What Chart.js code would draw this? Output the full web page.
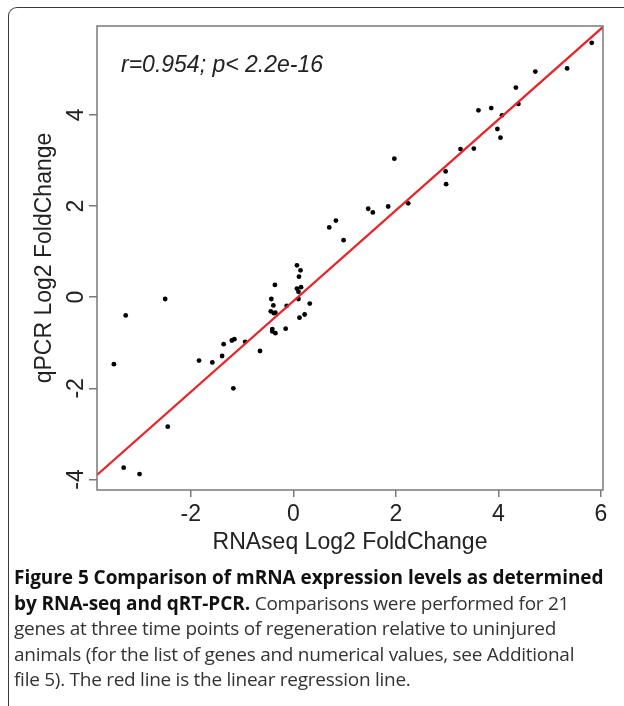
<!DOCTYPE html>
<html>
<head>
<meta charset="utf-8">
<script src="https://cdn.jsdelivr.net/npm/chart.js@4.4.1/dist/chart.umd.min.js"></script>
<style>
  html, body { margin: 0; padding: 0; background: #fff; }
  #wrap { position: relative; width: 624px; height: 706px; overflow: hidden; }
  #c { position: absolute; left: 0; top: 0; }
  #frame { position: absolute; left: 8px; top: 7px; width: 640px; height: 720px;
           border-top: 1.5px solid #3a3a3a; border-left: 1.5px solid #3a3a3a;
           border-top-left-radius: 9px; box-sizing: border-box; }
  #cap { position: absolute; left: 14px; top: 565px; width: 610px;
         font-family: "Open Sans", "Noto Sans", sans-serif; font-size: 19px;
         line-height: 25.6px; color: #333; letter-spacing: -0.27px; white-space: nowrap; }
  #cap b { color: #111; letter-spacing: -0.05px; }
</style>
</head>
<body>
<div id="wrap">
  <canvas id="c" width="624" height="706"></canvas>
  <div id="frame"></div>
  <div id="cap"><b>Figure 5 Comparison of mRNA expression levels as determined<br>by RNA-seq and qRT-PCR.</b> Comparisons were performed for 21<br>genes at three time points of regeneration relative to uninjured<br>animals (for the list of genes and numerical values, see Additional<br>file 5). The red line is the linear regression line.</div>
</div>
<script>
// RNAseq log2 fold change (x) and qPCR log2 fold change (y)
const rnaseqX = [5.82,5.34,4.72,4.34,4.39,3.61,3.86,4.07,3.98,4.04,
  3.26,3.52,2.97,2.98,1.97,2.24,1.85,1.46,1.55,0.70,
  0.83,0.98,0.07,0.14,0.11,-0.36,0.07,0.15,0.10,0.10,
  -0.43,-0.39,-0.13,0.32,-0.44,-0.38,-0.35,0.12,0.22,-0.41,
  -0.41,-0.35,-0.15,-0.94,-1.20,-1.15,-1.36,-1.39,-1.58,-1.84,
  -0.65,-1.17,-2.50,-3.27,-3.50,-2.45,-3.31,-3.00];
const qpcrY = [5.58,5.02,4.95,4.60,4.24,4.10,4.15,3.99,3.69,3.50,
  3.25,3.26,2.76,2.48,3.04,2.06,1.99,1.94,1.86,1.53,
  1.68,1.25,0.70,0.59,0.45,0.27,0.19,0.22,0.12,-0.04,
  -0.04,-0.18,-0.19,-0.14,-0.31,-0.35,-0.34,-0.45,-0.38,-0.70,
  -0.75,-0.79,-0.69,-0.98,-0.95,-0.92,-1.03,-1.29,-1.43,-1.39,
  -1.18,-2.00,-0.04,-0.40,-1.47,-2.84,-3.74,-3.88];
// regression line end points
const fitX = [-3.83, 6.04];
const fitY = [-3.90, 5.93];
// axes
const xRange = [-3.83, 6.04];
const yRange = [-4.23, 5.95];
const xTicks = [-2, 0, 2, 4, 6];
const yTicks = [-4, -2, 0, 2, 4];
const statText = "r=0.954; p< 2.2e-16";
const xTitle = "RNAseq Log2 FoldChange";
const yTitle = "qPCR Log2 FoldChange";

const FONT = "'Liberation Sans', Arial, sans-serif";
const AXIS_GRAY = '#7a7a7a';
const TEXT = '#222';

const points = rnaseqX.map((x, i) => ({ x: x, y: qpcrY[i] }));
const fitLine = fitX.map((x, i) => ({ x: x, y: fitY[i] }));

const boxPlugin = {
  id: 'box',
  afterDraw(chart) {
    const { ctx, chartArea: a, scales } = chart;
    ctx.save();
    ctx.strokeStyle = AXIS_GRAY;
    ctx.lineWidth = 1.5;
    ctx.strokeRect(a.left, a.top, a.right - a.left, a.bottom - a.top);
    // rotated y tick labels
    ctx.fillStyle = TEXT;
    ctx.font = "23px " + FONT;
    ctx.textAlign = 'center';
    ctx.textBaseline = 'middle';
    yTicks.forEach(v => {
      const py = scales.y.getPixelForValue(v);
      ctx.save();
      ctx.translate(77, py);
      ctx.rotate(-Math.PI / 2);
      ctx.fillText(String(v), 0, 0);
      ctx.restore();
    });
    // statistic annotation
    ctx.font = "italic 23px " + FONT;
    ctx.textAlign = 'left';
    ctx.textBaseline = 'alphabetic';
    ctx.fillText(statText, a.left + 24, a.top + 46);
    ctx.restore();
  }
};

new Chart(document.getElementById('c'), {
  type: 'scatter',
  data: {
    datasets: [
      { data: points, backgroundColor: '#000', borderColor: '#000',
        pointRadius: 2.4, pointHoverRadius: 2.4, borderWidth: 0, order: 2 },
      { type: 'line', data: fitLine, borderColor: '#e8262a', borderWidth: 2.2,
        pointRadius: 0, fill: false, order: 1 }
    ]
  },
  options: {
    responsive: false,
    animation: false,
    devicePixelRatio: 1,
    layout: { padding: { left: 10, top: 26, right: 21, bottom: 150 } },
    plugins: { legend: { display: false }, tooltip: { enabled: false } },
    scales: {
      x: {
        type: 'linear', min: xRange[0], max: xRange[1],
        afterBuildTicks: s => { s.ticks = xTicks.map(v => ({ value: v })); },
        afterFit: s => { s.height = 66; },
        grid: { display: true, drawOnChartArea: false, drawTicks: true, tickLength: 7, color: AXIS_GRAY, lineWidth: 1.5 },
        border: { display: false },
        ticks: { color: TEXT, font: { family: FONT, size: 23 }, padding: 4, maxRotation: 0 },
        title: { display: true, text: xTitle, color: TEXT, font: { family: FONT, size: 23 }, padding: { top: 0, bottom: 0 } }
      },
      y: {
        type: 'linear', min: yRange[0], max: yRange[1],
        afterBuildTicks: s => { s.ticks = yTicks.map(v => ({ value: v })); },
        afterFit: s => { s.width = 87; },
        grid: { display: true, drawOnChartArea: false, drawTicks: true, tickLength: 8, color: AXIS_GRAY, lineWidth: 1.5 },
        border: { display: false },
        ticks: { display: false },
        title: { display: true, text: yTitle, color: TEXT, font: { family: FONT, size: 23 }, padding: { top: 21, bottom: 0 } }
      }
    }
  },
  plugins: [boxPlugin]
});
</script>
</body>
</html>
